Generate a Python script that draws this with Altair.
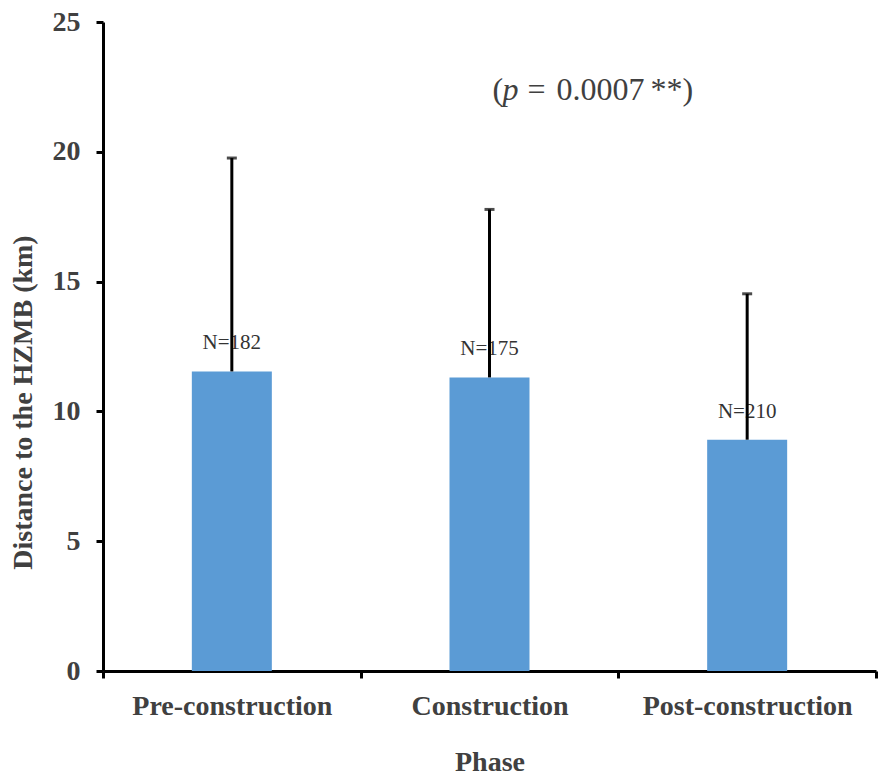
import altair as alt
import pandas as pd

phases = ["Pre-construction", "Construction", "Post-construction"]
means = [11.54, 11.31, 8.91]
sds = [8.22, 6.47, 5.62]
ns = [182, 175, 210]

annot_phase = "Construction"
annot_value = 22.0

FONT = "Liberation Serif"
TXT = "#404040"
BAR = "#5B9BD5"

df = pd.DataFrame({"phase": phases, "mean": means, "sd": sds, "n": ns})
df["upper"] = df["mean"] + df["sd"]
df["label"] = ["N=" + str(n) for n in ns]

x_enc = alt.X(
    "phase:N",
    sort=phases,
    title="Phase",
    scale=alt.Scale(paddingInner=0, paddingOuter=0),
    axis=alt.Axis(
        labelAngle=0,
        tickBand="extent",
        labelPadding=14,
        labelBaseline="top",
        labelLimit=0,
        titleY=77,
        titleBaseline="top",
    ),
)
y_scale = alt.Scale(domain=[0, 25], nice=False)

base = alt.Chart(df)

bars = base.mark_bar(size=80, color=BAR).encode(
    x=x_enc,
    y=alt.Y(
        "mean:Q",
        scale=y_scale,
        title="Distance to the HZMB (km)",
        axis=alt.Axis(
            values=[0, 5, 10, 15, 20, 25],
            grid=False,
            labelPadding=16,
            titleX=-66,
            titleY=380,
            titleBaseline="bottom",
        ),
    ),
)

labels = base.mark_text(
    font=FONT, fontSize=21, color="#333333", baseline="alphabetic", dy=-22
).encode(x=alt.X("phase:N", sort=phases), y=alt.Y("mean:Q", scale=y_scale), text="label:N")

rules = base.mark_rule(color="black", strokeWidth=3).encode(
    x=alt.X("phase:N", sort=phases),
    y=alt.Y("mean:Q", scale=y_scale),
    y2="upper:Q",
)

caps = base.mark_tick(color="black", thickness=3, size=10, orient="horizontal").encode(
    x=alt.X("phase:N", sort=phases),
    y=alt.Y("upper:Q", scale=y_scale),
)

adf = pd.DataFrame({"phase": [annot_phase], "v": [annot_value]})
abase = alt.Chart(adf)


def part(txt, dx, style="normal"):
    return abase.mark_text(
        text=txt,
        font=FONT,
        fontSize=32,
        fontStyle=style,
        color=TXT,
        align="left",
        baseline="alphabetic",
        dx=dx,
    ).encode(x=alt.X("phase:N", sort=phases), y=alt.Y("v:Q", scale=y_scale))


annot = (
    part("(", 3)
    + part("p", 13, "italic")
    + part("=", 38)
    + part("0.0007", 67)
    + part("**)", 161)
)

chart = (
    alt.layer(bars, labels, rules, caps, annot)
    .properties(
        width=773,
        height=649,
        autosize=alt.AutoSizeParams(type="none"),
        padding={"left": 95, "top": 14, "right": 2, "bottom": 106},
    )
    .configure_view(stroke=None)
    .configure_axis(
        domainColor="black",
        domainWidth=3,
        tickColor="black",
        tickWidth=3,
        tickSize=7,
        labelFont=FONT,
        labelFontSize=28,
        labelFontWeight="bold",
        labelColor=TXT,
        titleFont=FONT,
        titleFontSize=28,
        titleFontWeight="bold",
        titleColor=TXT,
    )
)

chart.save("out.html", embed_options={"renderer": "svg", "actions": False})
